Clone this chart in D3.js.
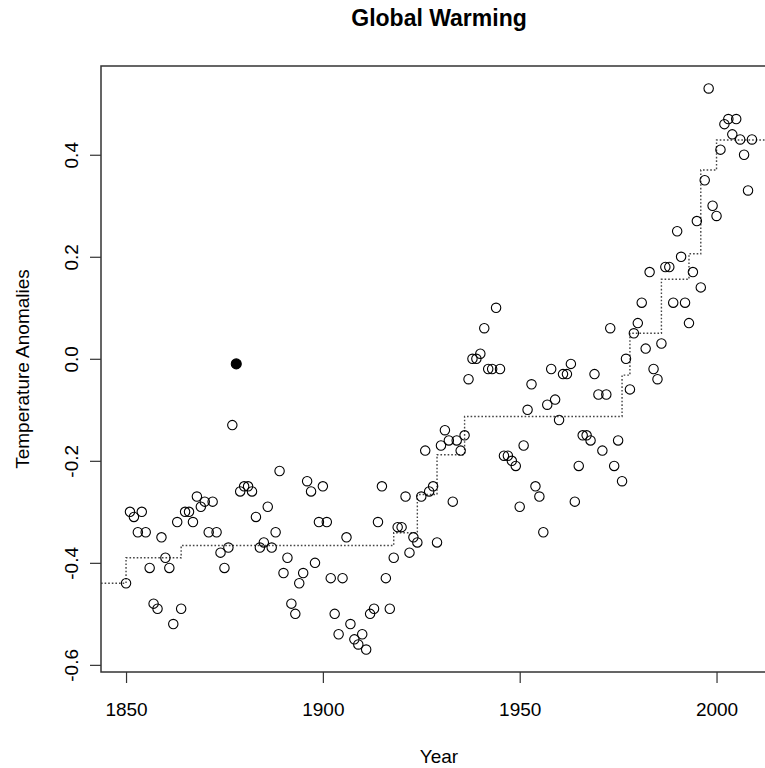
<!DOCTYPE html>
<html>
<head>
<meta charset="utf-8">
<script src="https://cdn.jsdelivr.net/npm/d3@7"></script>
<style>
  html, body { margin: 0; padding: 0; background: #fff; }
  svg text { font-family: "Liberation Sans", Arial, Helvetica, sans-serif; fill: #000; }
</style>
</head>
<body>
<svg id="chart" width="765" height="768"></svg>
<script>
// ---- data ----
const years = d3.range(1850, 2010);
const anomalies = [
  -0.44,-0.30,-0.31,-0.34,-0.30,-0.34,-0.41,-0.48,-0.49,-0.35,
  -0.39,-0.41,-0.52,-0.32,-0.49,-0.30,-0.30,-0.32,-0.27,-0.29,
  -0.28,-0.34,-0.28,-0.34,-0.38,-0.41,-0.37,-0.13,-0.01,-0.26,
  -0.25,-0.25,-0.26,-0.31,-0.37,-0.36,-0.29,-0.37,-0.34,-0.22,
  -0.42,-0.39,-0.48,-0.50,-0.44,-0.42,-0.24,-0.26,-0.40,-0.32,
  -0.25,-0.32,-0.43,-0.50,-0.54,-0.43,-0.35,-0.52,-0.55,-0.56,
  -0.54,-0.57,-0.50,-0.49,-0.32,-0.25,-0.43,-0.49,-0.39,-0.33,
  -0.33,-0.27,-0.38,-0.35,-0.36,-0.27,-0.18,-0.26,-0.25,-0.36,
  -0.17,-0.14,-0.16,-0.28,-0.16,-0.18,-0.15,-0.04, 0.00, 0.00,
   0.01, 0.06,-0.02,-0.02, 0.10,-0.02,-0.19,-0.19,-0.20,-0.21,
  -0.29,-0.17,-0.10,-0.05,-0.25,-0.27,-0.34,-0.09,-0.02,-0.08,
  -0.12,-0.03,-0.03,-0.01,-0.28,-0.21,-0.15,-0.15,-0.16,-0.03,
  -0.07,-0.18,-0.07, 0.06,-0.21,-0.16,-0.24, 0.00,-0.06, 0.05,
   0.07, 0.11, 0.02, 0.17,-0.02,-0.04, 0.03, 0.18, 0.18, 0.11,
   0.25, 0.20, 0.11, 0.07, 0.17, 0.27, 0.14, 0.35, 0.53, 0.30,
   0.28, 0.41, 0.46, 0.47, 0.44, 0.47, 0.43, 0.40, 0.33, 0.43
];
const highlightYear = 1878;
// piecewise-constant fit: level starts at each break year
const stepBreaks = [1850, 1864, 1918, 1924, 1929, 1936, 1976, 1978, 1986, 1993, 1996, 2000];
const stepLevels = [-0.39, -0.366, -0.341, -0.266, -0.188, -0.113, -0.032, 0.050, 0.156, 0.206, 0.370, 0.429];
const stepInitial = -0.44;
const xTicks = [1850, 1900, 1950, 2000];
const yTicks = [-0.6, -0.4, -0.2, 0.0, 0.2, 0.4];
const titleText = "Global Warming";
const xLabel = "Year";
const yLabel = "Temperature Anomalies";

// ---- layout ----
const svg = d3.select("#chart");
const plot = { left: 101, right: 777, top: 66, bottom: 672 };

const xExt = d3.extent(years), xPad = (xExt[1] - xExt[0]) * 0.04;
const yExt = d3.extent(anomalies), yPad = (yExt[1] - yExt[0]) * 0.04;
const x = d3.scaleLinear().domain([xExt[0] - xPad, xExt[1] + xPad]).range([plot.left, plot.right]);
const y = d3.scaleLinear().domain([yExt[0] - yPad, yExt[1] + yPad]).range([plot.bottom, plot.top]);

svg.append("rect").attr("width", 765).attr("height", 768).attr("fill", "#fff");

// step line
const stepPts = [[x.domain()[0], stepInitial]]
  .concat(stepBreaks.map((b, i) => [b, stepLevels[i]]))
  .concat([[x.domain()[1], stepLevels[stepLevels.length - 1]]]);
svg.append("path")
  .datum(stepPts)
  .attr("fill", "none")
  .attr("stroke", "#444")
  .attr("stroke-width", 1.4)
  .attr("stroke-dasharray", "1.6,2")
  .attr("d", d3.line().x(d => x(d[0])).y(d => y(d[1])).curve(d3.curveStepAfter));

// points
const data = years.map((yr, i) => ({ yr, v: anomalies[i] }));
svg.append("g").selectAll("circle")
  .data(data)
  .join("circle")
  .attr("cx", d => x(d.yr))
  .attr("cy", d => y(d.v))
  .attr("r", d => d.yr === highlightYear ? 5 : 4.7)
  .attr("fill", d => d.yr === highlightYear ? "#000" : "none")
  .attr("stroke", "#000")
  .attr("stroke-width", 1.1);

// box
svg.append("rect")
  .attr("x", plot.left).attr("y", plot.top)
  .attr("width", plot.right - plot.left).attr("height", plot.bottom - plot.top)
  .attr("fill", "none").attr("stroke", "#333").attr("stroke-width", 1.5);

// x axis
const xAxis = svg.append("g").attr("transform", `translate(0,${plot.bottom})`)
  .call(d3.axisBottom(x).tickValues(xTicks).tickFormat(d => String(d)).tickSize(11).tickPadding(20));
xAxis.select(".domain").remove();
xAxis.selectAll("line").attr("stroke", "#333").attr("stroke-width", 1.2);
xAxis.selectAll("text").style("font-size", "19px");

// y axis (labels rotated as in R, ASCII hyphen minus)
const yAxis = svg.append("g").attr("transform", `translate(${plot.left},0)`)
  .call(d3.axisLeft(y).tickValues(yTicks).tickFormat(d => d.toFixed(1)).tickSize(11));
yAxis.select(".domain").remove();
yAxis.selectAll("line").attr("stroke", "#333").attr("stroke-width", 1.2);
yAxis.selectAll("text")
  .style("font-size", "19px")
  .attr("x", null).attr("dy", null)
  .attr("text-anchor", "middle")
  .attr("transform", "translate(-23,0) rotate(-90)")
  .attr("y", 0);

// title & labels
const cx = (plot.left + plot.right) / 2;
svg.append("text").attr("x", cx).attr("y", 26).attr("text-anchor", "middle")
  .style("font-size", "23px").style("font-weight", "bold").text(titleText);
svg.append("text").attr("x", cx).attr("y", 763).attr("text-anchor", "middle")
  .style("font-size", "19px").text(xLabel);
svg.append("text").attr("transform", `translate(29,${(plot.top + plot.bottom) / 2}) rotate(-90)`)
  .attr("text-anchor", "middle").style("font-size", "19px").text(yLabel);
</script>
</body>
</html>
